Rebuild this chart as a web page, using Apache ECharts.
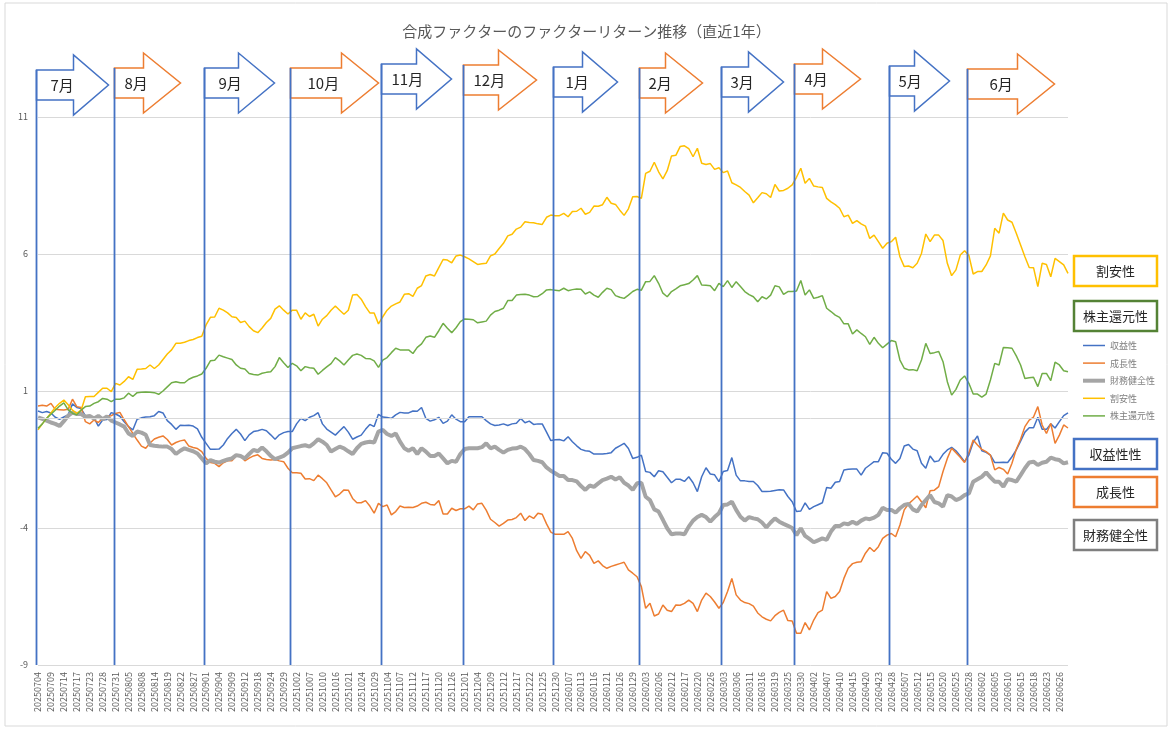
<!DOCTYPE html>
<html>
<head>
<meta charset="utf-8">
<script src="https://cdn.jsdelivr.net/npm/echarts@6/dist/echarts.min.js"></script>
<style>
html, body { margin: 0; padding: 0; background: #fff; }
#main { width: 1173px; height: 732px; }
</style>
</head>
<body>
<div id="main"></div>
<script>
// 営業日（年月 + 日）
const tradingDays = [
  ['202507', '04 07 08 09 10 11 14 15 16 17 18 22 23 24 25 28 29 30 31'],
  ['202508', '01 04 05 06 07 08 12 13 14 15 18 19 20 21 22 25 26 27 28 29'],
  ['202509', '01 02 03 04 05 08 09 10 11 12 16 17 18 19 22 24 25 26 29 30'],
  ['202510', '01 02 03 06 07 08 09 10 14 15 16 17 20 21 22 23 24 27 28 29 30 31'],
  ['202511', '04 05 06 07 10 11 12 13 14 17 18 19 20 21 25 26 27 28'],
  ['202512', '01 02 03 04 05 08 09 10 11 12 15 16 17 18 19 22 23 24 25 26 29 30'],
  ['202601', '05 06 07 08 09 13 14 15 16 19 20 21 22 23 26 27 28 29 30'],
  ['202602', '02 03 04 05 06 09 10 12 13 16 17 18 19 20 24 25 26 27'],
  ['202603', '02 03 04 05 06 09 10 11 12 13 16 17 18 19 23 24 25 26 27 30 31'],
  ['202604', '01 02 03 06 07 08 09 10 13 14 15 16 17 20 21 22 23 24 27 28 30'],
  ['202605', '01 07 08 11 12 13 14 15 18 19 20 21 22 25 26 27 28 29'],
  ['202606', '01 02 03 04 05 08 09 10 11 12 15 16 17 18 19 22 23 24 25 26 29 30']
];
const dates = [];
tradingDays.forEach(([ym, ds]) => ds.split(' ').forEach(d => dates.push(ym + d)));

const seriesNames = ['収益性', '成長性', '財務健全性', '割安性', '株主還元性'];

const shueki = [
  0.27,0.21,0.25,0.2,0.04,-0.03,0.05,0.13,0.53,0.4,0.36,0.09,0.06,0.02,-0.28,-0.06,-0.04,0.21,0.16,0.08,
  -0.12,-0.3,-0.42,-0.03,0.02,0.05,0.06,0.1,0.25,0.2,-0.08,-0.22,-0.4,-0.25,-0.26,-0.25,-0.28,-0.38,-0.69,-0.91,
  -1.13,-1.13,-1.12,-0.97,-0.73,-0.55,-0.4,-0.57,-0.81,-0.6,-0.48,-0.45,-0.4,-0.45,-0.6,-0.76,-0.6,-0.52,-0.48,-0.48,
  -0.2,0.0,-0.08,0.04,0.1,0.21,-0.2,-0.39,-0.5,-0.61,-0.45,-0.3,-0.5,-0.76,-0.68,-0.61,-0.4,-0.22,-0.3,0.15,
  0.05,0.03,0.0,0.13,0.22,0.2,0.2,0.27,0.26,0.4,0.0,-0.1,-0.05,0.04,-0.18,-0.1,0.13,-0.03,-0.12,-0.12,
  0.06,0.06,0.06,0.06,-0.08,-0.2,-0.26,-0.24,-0.2,-0.26,-0.2,-0.18,0.0,-0.16,-0.1,-0.22,-0.2,-0.2,-0.5,-0.81,
  -0.78,-0.77,-0.82,-0.67,-0.85,-1.0,-1.13,-1.18,-1.2,-1.3,-1.3,-1.3,-1.28,-1.25,-1.09,-1.0,-0.91,-1.1,-1.46,-1.42,
  -1.34,-1.94,-1.97,-2.13,-1.91,-1.95,-2.15,-2.35,-2.22,-2.22,-2.3,-2.13,-2.35,-2.67,-2.13,-1.8,-2.03,-2.06,-2.31,-1.94,
  -1.9,-1.43,-2.07,-2.28,-2.28,-2.3,-2.3,-2.45,-2.67,-2.67,-2.66,-2.63,-2.6,-2.61,-2.85,-3.04,-3.4,-3.38,-3.08,-3.32,
  -3.22,-3.15,-3.08,-2.52,-2.55,-2.33,-2.3,-1.88,-1.86,-1.85,-1.85,-2.07,-1.82,-1.7,-1.58,-1.58,-1.25,-1.27,-1.49,-1.64,
  -1.46,-1.01,-0.95,-1.12,-1.18,-1.64,-1.82,-1.37,-1.58,-1.55,-1.31,-1.15,-1.06,-1.18,-1.37,-1.58,-1.34,-0.87,-0.64,-1.18,
  -1.24,-1.34,-1.61,-1.61,-1.6,-1.61,-1.4,-1.15,-0.83,-0.5,-0.34,-0.34,0.04,-0.4,-0.4,-0.2,-0.35,-0.12,0.1,0.2
];
const seicho = [
  0.45,0.48,0.45,0.55,0.33,0.32,0.31,0.33,0.7,0.43,0.4,-0.12,-0.2,-0.06,-0.15,0.0,0.08,0.1,0.18,0.22,
  -0.05,-0.3,-0.55,-0.79,-1.01,-1.09,-0.9,-0.75,-0.69,-0.64,-0.77,-0.97,-0.88,-0.82,-0.79,-1.01,-1.06,-1.1,-1.21,-1.46,
  -1.61,-1.64,-1.76,-1.62,-1.55,-1.55,-1.37,-1.36,-1.55,-1.45,-1.37,-1.33,-1.46,-1.5,-1.52,-1.5,-1.55,-1.58,-1.82,-1.98,
  -1.98,-2.0,-2.21,-2.2,-2.27,-2.07,-2.2,-2.35,-2.61,-2.86,-2.76,-2.61,-2.62,-2.92,-3.08,-3.08,-3.0,-3.2,-3.46,-3.1,
  -3.22,-3.16,-3.52,-3.4,-3.2,-3.25,-3.24,-3.25,-3.2,-3.1,-3.06,-3.14,-3.16,-3.0,-3.49,-3.49,-3.28,-3.36,-3.3,-3.3,
  -3.2,-3.34,-3.12,-3.1,-3.35,-3.68,-3.8,-3.93,-3.83,-3.71,-3.69,-3.62,-3.46,-3.73,-3.56,-3.65,-3.46,-3.5,-3.85,-4.15,
  -4.23,-4.23,-4.23,-4.13,-4.38,-4.83,-5.11,-4.86,-5.0,-5.29,-5.2,-5.37,-5.47,-5.4,-5.35,-5.3,-5.25,-5.53,-5.65,-5.78,
  -6.14,-6.93,-6.75,-7.21,-7.14,-6.81,-7.0,-7.05,-6.81,-6.82,-6.75,-6.63,-6.75,-7.05,-6.63,-6.38,-6.5,-6.7,-6.93,-6.72,
  -6.32,-5.84,-6.44,-6.63,-6.72,-6.76,-6.85,-7.1,-7.24,-7.33,-7.39,-7.2,-7.08,-7.0,-7.38,-7.39,-7.84,-7.84,-7.45,-7.72,
  -7.36,-7.09,-7.0,-6.32,-6.57,-6.5,-6.32,-5.84,-5.47,-5.3,-5.25,-5.23,-4.92,-4.71,-4.86,-4.68,-4.38,-4.26,-4.2,-4.32,
  -3.89,-3.34,-3.12,-2.98,-2.83,-3.04,-3.26,-2.64,-2.62,-2.49,-1.94,-1.46,-1.09,-1.25,-1.42,-1.61,-1.25,-0.79,-0.97,-1.13,
  -1.21,-1.34,-1.88,-1.79,-1.86,-2.03,-1.64,-1.13,-0.76,-0.3,-0.06,0.05,0.43,-0.24,-0.55,-0.18,-0.91,-0.61,-0.24,-0.35
];
const zaimu = [
  0.04,-0.02,-0.08,-0.15,-0.2,-0.28,-0.1,0.1,0.21,0.16,0.16,0.06,0.09,0.0,0.09,-0.03,0.07,-0.08,-0.15,-0.22,
  -0.3,-0.55,-0.64,-0.48,-0.52,-0.6,-0.97,-1.0,-1.02,-1.03,-1.03,-1.12,-1.3,-1.18,-1.09,-1.15,-1.2,-1.28,-1.46,-1.64,
  -1.52,-1.58,-1.61,-1.55,-1.5,-1.46,-1.34,-1.37,-1.46,-1.3,-1.15,-1.2,-1.06,-1.2,-1.37,-1.49,-1.43,-1.37,-1.25,-1.09,
  -1.05,-1.01,-0.98,-1.03,-0.91,-0.76,-0.85,-0.97,-1.21,-1.12,-1.03,-1.09,-1.2,-1.3,-1.09,-0.93,-0.88,-0.85,-0.88,-0.48,
  -0.42,-0.57,-0.64,-0.55,-0.85,-1.09,-1.18,-1.09,-1.3,-1.09,-1.21,-1.37,-1.37,-1.28,-1.46,-1.64,-1.55,-1.58,-1.3,-1.12,
  -1.09,-1.09,-1.09,-1.05,-0.91,-1.09,-1.03,-1.15,-1.25,-1.15,-1.1,-1.09,-1.03,-1.12,-1.3,-1.52,-1.55,-1.6,-1.79,-1.91,
  -2.0,-2.1,-2.1,-2.25,-2.25,-2.3,-2.47,-2.61,-2.45,-2.5,-2.37,-2.25,-2.2,-2.13,-2.23,-2.15,-2.35,-2.45,-2.61,-2.37,
  -2.35,-2.86,-2.98,-3.32,-3.4,-3.7,-4.01,-4.23,-4.2,-4.2,-4.23,-3.95,-3.73,-3.6,-3.52,-3.6,-3.77,-3.6,-3.46,-3.16,
  -3.14,-3.04,-3.34,-3.59,-3.73,-3.6,-3.65,-3.68,-3.8,-3.98,-3.8,-3.65,-3.77,-3.85,-3.92,-4.0,-4.26,-4.01,-4.29,-4.4,
  -4.52,-4.45,-4.38,-4.43,-4.13,-3.93,-3.93,-3.83,-3.86,-3.77,-3.85,-3.73,-3.65,-3.68,-3.62,-3.52,-3.26,-3.34,-3.34,-3.44,
  -3.28,-3.16,-3.12,-3.32,-3.4,-3.16,-2.98,-2.8,-3.05,-3.1,-3.22,-2.8,-2.85,-2.98,-2.92,-2.8,-2.74,-2.31,-2.22,-2.13,
  -1.97,-2.15,-2.31,-2.31,-2.49,-2.22,-2.25,-2.31,-2.07,-1.82,-1.61,-1.58,-1.7,-1.62,-1.58,-1.43,-1.49,-1.52,-1.64,-1.6
];
const wariyasu = [
  -0.42,-0.2,0.0,0.2,0.4,0.55,0.67,0.5,0.3,0.18,0.3,0.79,0.8,0.8,0.95,1.1,1.1,0.98,1.28,1.22,
  1.35,1.52,1.42,1.79,1.8,1.82,1.95,1.82,1.95,2.15,2.35,2.5,2.74,2.74,2.78,2.84,2.88,2.95,3.0,3.41,
  3.69,3.7,4.02,3.95,3.85,3.71,3.68,3.5,3.55,3.35,3.2,3.13,3.3,3.5,3.65,3.99,4.11,3.95,3.81,3.95,
  3.95,3.62,3.85,3.72,3.8,3.37,3.62,3.75,3.95,4.1,3.95,3.8,3.95,4.5,4.52,4.35,4.08,3.85,3.85,3.45,
  3.71,3.95,4.1,4.18,4.25,4.53,4.55,4.45,4.75,4.85,5.2,5.25,5.2,5.5,5.8,5.78,5.68,5.93,5.96,5.9,
  5.82,5.72,5.62,5.64,5.66,5.93,6.0,6.2,6.39,6.66,6.72,6.91,6.98,7.18,7.15,7.14,7.1,7.08,7.34,7.42,
  7.4,7.4,7.48,7.36,7.55,7.56,7.67,7.45,7.52,7.75,7.74,7.8,8.07,7.85,7.81,7.6,7.41,7.65,8.09,8.1,
  8.03,8.94,9.02,9.35,9.0,8.74,9.04,9.58,9.6,9.92,9.95,9.85,9.55,9.86,9.31,9.27,9.3,9.09,9.15,8.97,
  9.03,8.6,8.52,8.43,8.28,8.15,7.87,8.05,8.24,8.2,8.06,8.54,8.3,8.32,8.4,8.52,8.8,9.13,8.58,8.76,
  8.48,8.45,8.43,8.03,7.9,7.8,7.67,7.36,7.42,7.12,7.22,7.1,7.02,6.57,6.69,6.45,6.21,6.39,6.45,6.61,
  5.9,5.54,5.56,5.5,5.66,6.02,6.73,6.45,6.69,6.69,6.49,5.66,5.21,5.42,5.96,6.12,5.95,5.27,5.36,5.36,
  5.6,5.93,6.94,6.76,7.49,7.24,7.16,6.76,6.33,5.9,5.51,5.5,4.81,5.66,5.62,5.17,5.84,5.72,5.6,5.29
];
const kabunushi = [
  -0.36,-0.2,0.0,0.15,0.3,0.45,0.57,0.31,0.19,0.13,0.3,0.43,0.45,0.55,0.61,0.73,0.7,0.61,0.7,0.7,
  0.75,0.92,0.8,0.94,0.95,0.96,0.95,0.94,0.88,1.0,1.15,1.3,1.34,1.3,1.3,1.43,1.5,1.55,1.62,1.83,
  2.1,2.12,2.31,2.25,2.2,2.15,1.95,1.83,1.8,1.64,1.6,1.58,1.65,1.68,1.7,1.89,2.22,2.03,1.86,2.01,
  1.92,1.74,1.89,1.85,1.83,1.61,1.75,1.88,2.0,2.22,2.1,1.95,2.13,2.3,2.35,2.3,2.19,2.18,2.1,1.86,
  2.13,2.22,2.4,2.56,2.5,2.5,2.5,2.37,2.59,2.72,2.96,3.01,2.96,3.2,3.47,3.29,3.13,3.31,3.53,3.63,
  3.62,3.6,3.49,3.52,3.55,3.77,3.9,3.95,4.02,4.3,4.3,4.5,4.52,4.53,4.5,4.44,4.45,4.55,4.69,4.7,
  4.68,4.66,4.75,4.66,4.7,4.72,4.71,4.54,4.62,4.5,4.42,4.6,4.75,4.7,4.48,4.42,4.38,4.5,4.63,4.71,
  4.68,4.99,5.0,5.21,4.93,4.57,4.44,4.63,4.73,4.84,4.88,4.92,5.05,5.21,4.87,4.86,4.84,4.66,4.93,4.81,
  5.03,4.78,4.99,4.81,4.63,4.52,4.44,4.26,4.44,4.36,4.5,4.84,4.8,4.53,4.63,4.63,4.65,5.03,4.5,4.69,
  4.38,4.42,4.48,4.02,3.9,3.77,3.69,3.45,3.45,3.08,3.23,3.1,2.98,2.7,2.96,2.74,2.58,2.71,2.84,2.8,
  2.13,1.83,1.77,1.78,1.74,2.13,2.74,2.37,2.4,2.44,2.07,1.34,0.85,1.06,1.4,1.55,1.28,0.89,0.89,0.78,
  0.89,1.4,2.01,1.95,2.59,2.58,2.56,2.28,1.95,1.46,1.48,1.5,1.16,1.64,1.64,1.38,2.05,1.95,1.74,1.7
];

// 月の区切り（矢印の位置となる営業日）
const monthLabels = ['7月', '8月', '9月', '10月', '11月', '12月', '1月', '2月', '3月', '4月', '5月', '6月'];
const monthStart = ['20250704', '20250731', '20250901', '20251001', '20251031', '20251201',
                    '20251230', '20260202', '20260303', '20260327', '20260428', '20260528'];

// 右側のラベル
const boxLabels = ['割安性', '株主還元性', '収益性性', '成長性', '財務健全性'];

const BLUE = '#4472c4', ORANGE = '#ed7d31', GRAY = '#a5a5a5', YELLOW = '#ffc000', GREEN = '#70ad47';
const FONT = '"Noto Sans CJK JP", "Noto Sans", sans-serif';

// 矢印の形（胴の幅、頭の幅、胴の上端y）
const arrowShapes = [
  { body: 37, head: 35, top: 70, color: BLUE, tx: 14 },
  { body: 29, head: 37, top: 68, color: ORANGE, tx: 10 },
  { body: 34, head: 36, top: 68, color: BLUE, tx: 14 },
  { body: 51, head: 37, top: 68, color: ORANGE, tx: 17 },
  { body: 35, head: 35, top: 64, color: BLUE, tx: 10 },
  { body: 35, head: 38, top: 65, color: ORANGE, tx: 10 },
  { body: 29, head: 35, top: 67, color: BLUE, tx: 12 },
  { body: 26, head: 37, top: 68, color: ORANGE, tx: 9 },
  { body: 27, head: 35, top: 67, color: BLUE, tx: 9 },
  { body: 28, head: 38, top: 64, color: ORANGE, tx: 10 },
  { body: 25, head: 35, top: 66, color: BLUE, tx: 9 },
  { body: 50, head: 37, top: 69, color: ORANGE, tx: 22 }
];
const boxStyles = [
  { y: 256, color: '#ffc000' },
  { y: 301, color: '#548235' },
  { y: 439, color: '#4472c4' },
  { y: 477, color: '#ed7d31' },
  { y: 520, color: '#7f7f7f' }
];

function lineSeries(name, data, color, width) {
  return {
    name: name,
    type: 'line',
    data: data,
    symbol: 'none',
    lineStyle: { color: color, width: width },
    itemStyle: { color: color },
    emphasis: { disabled: true }
  };
}

const chart = echarts.init(document.getElementById('main'));
const series = [
  lineSeries(seriesNames[0], shueki, BLUE, 1.5),
  lineSeries(seriesNames[1], seicho, ORANGE, 1.5),
  lineSeries(seriesNames[2], zaimu, GRAY, 4),
  lineSeries(seriesNames[3], wariyasu, YELLOW, 1.5),
  lineSeries(seriesNames[4], kabunushi, GREEN, 1.5)
];
// ゼロの線
series[0].markLine = {
  silent: true,
  symbol: 'none',
  label: { show: false },
  lineStyle: { color: '#d9d9d9', type: 'solid', width: 1 },
  data: [{ yAxis: 0 }]
};

chart.setOption({
  animation: false,
  textStyle: { fontFamily: FONT },
  title: {
    text: '合成ファクターのファクターリターン推移（直近1年）',
    left: 'center',
    top: 19,
    textStyle: { fontSize: 15, fontWeight: 'normal', color: '#595959', fontFamily: FONT }
  },
  legend: {
    data: seriesNames.map((n, i) => i === 2 ? { name: n, lineStyle: { width: 4 } } : { name: n, lineStyle: { width: 1.5 } }),
    orient: 'vertical',
    left: 1081,
    top: 341,
    padding: 0,
    itemWidth: 22,
    itemHeight: 10,
    itemGap: 8.6,
    itemStyle: { opacity: 0 },
    textStyle: { fontSize: 9, color: '#7f7f7f', fontFamily: FONT }
  },
  grid: { left: 38, right: 105, top: 117, bottom: 67 },
  xAxis: {
    type: 'category',
    data: dates,
    boundaryGap: false,
    axisLine: { show: false, onZero: false },
    axisTick: { show: false },
    axisLabel: { interval: 2, rotate: 90, fontSize: 9, color: '#595959', margin: 7 }
  },
  yAxis: {
    type: 'value',
    min: -9,
    max: 11,
    interval: 5,
    axisLine: { show: false },
    axisTick: { show: false },
    axisLabel: { fontSize: 9, color: '#595959', margin: 10 },
    splitLine: { lineStyle: { color: '#d9d9d9', width: 1 } }
  },
  series: series
});

// 矢印・月の縦線・右側の枠
const graphics = [];
graphics.push({
  type: 'rect', silent: true, z: 0,
  shape: { x: 5, y: 3, width: 1162, height: 723 },
  style: { fill: 'none', stroke: '#d9d9d9', lineWidth: 1 }
});
const yBottom = chart.convertToPixel({ yAxisIndex: 0 }, -9);
monthStart.forEach((d, i) => {
  const x = Math.round(chart.convertToPixel({ xAxisIndex: 0 }, d)) - 1.5;
  const a = arrowShapes[i];
  const bt = a.top, bb = a.top + 30, ht = bt - 15, hb = bb + 15, cy = bt + 15;
  const hx = x + a.body, tip = hx + a.head;
  graphics.push({
    type: 'polygon', silent: true, z: 100,
    shape: { points: [[x, bt], [hx, bt], [hx, ht], [tip, cy], [hx, hb], [hx, bb], [x, bb]] },
    style: { fill: '#fff', stroke: a.color, lineWidth: 1.5 }
  });
  graphics.push({
    type: 'line', silent: true, z: 101,
    shape: { x1: x, y1: bt, x2: x, y2: yBottom },
    style: { stroke: BLUE, lineWidth: 1.8 }
  });
  graphics.push({
    type: 'text', silent: true, z: 102,
    x: x + a.tx, y: cy,
    style: { text: monthLabels[i], fontSize: 15, fontFamily: FONT, fill: '#262626', verticalAlign: 'middle' }
  });
});
boxLabels.forEach((t, i) => {
  const b = boxStyles[i];
  graphics.push({
    type: 'rect', silent: true, z: 100,
    shape: { x: 1074, y: b.y, width: 83, height: 30 },
    style: { fill: '#fff', stroke: b.color, lineWidth: 2.5 }
  });
  graphics.push({
    type: 'text', silent: true, z: 101,
    x: 1115.5, y: b.y + 15,
    style: { text: t, fontSize: 13, fontFamily: FONT, fill: '#262626', align: 'center', verticalAlign: 'middle' }
  });
});
chart.setOption({ graphic: graphics });
</script>
</body>
</html>
